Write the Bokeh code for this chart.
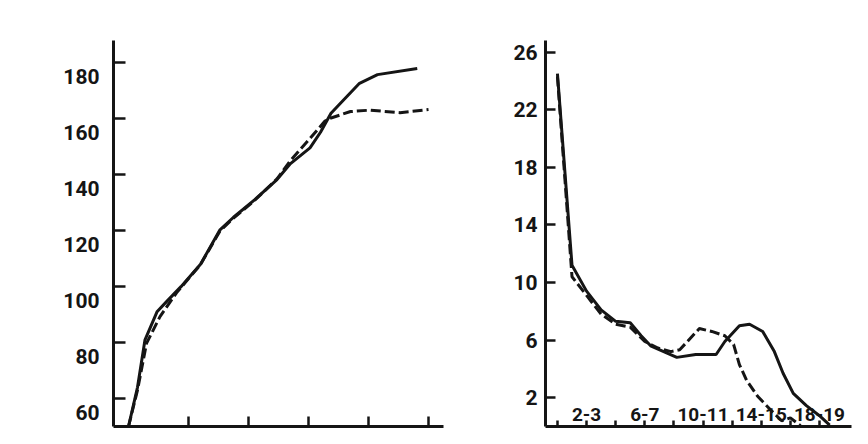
from bokeh.plotting import figure
from bokeh.models import Range1d, LinearAxis, FixedTicker, ColumnDataSource
from bokeh.layouts import row
from bokeh.embed import file_html
from bokeh.resources import INLINE
from bokeh.core.properties import value

# ---------------- data: left panel (body height, cm) ----------------
height_age_boys = [0, 0.6, 1.1, 1.9, 2.6, 3.5, 4.8, 6.1, 7.0, 8.4, 9.9, 10.8,
                   12.1, 12.8, 13.5, 14.4, 15.4, 16.6, 19.25]
height_boys = [50, 64, 81, 91, 95, 100, 108, 120.3, 124.8, 131, 138.3, 144,
               149.6, 155.2, 162, 167.1, 172.7, 175.8, 178]
height_age_girls = [0, 0.6, 1.2, 2.1, 3.2, 4.8, 6.1, 7.0, 8.4, 9.9, 10.8,
                    12.1, 13.1, 13.5, 14.8, 16.1, 18.1, 20.0]
height_girls = [50, 63, 79.7, 89.3, 97.8, 107.9, 119.9, 124.5, 130.8, 138.5,
                145.1, 153, 159.2, 160.3, 162.6, 163.1, 162.2, 163.3]
left_y_ticks = [60, 80, 100, 120, 140, 160, 180]
left_x_ticks = [4, 8, 12, 16, 20]

# ---------------- data: right panel (yearly gain, cm) ----------------
rate_age_boys = [0, 1, 2, 3, 4, 5, 5.75, 6.4, 7.3, 8.2, 9.5, 10.9, 11.5,
                 12.5, 13.2, 14.1, 14.9, 15.5, 16.2, 17.1, 18.0, 18.7]
rate_boys = [24.5, 11.2, 9.4, 8.1, 7.3, 7.2, 6.3, 5.6, 5.2, 4.8, 5.0, 5.0,
             5.9, 7.0, 7.1, 6.6, 5.2, 3.7, 2.3, 1.45, 0.75, 0.1]
rate_age_girls = [0, 1, 2, 3, 4, 5, 6, 6.9, 7.8, 8.4, 9.75, 10.6, 11.5,
                  12.1, 12.5, 13.0, 13.75, 14.6, 15.4, 16.0, 16.7]
rate_girls = [24.3, 10.4, 9.1, 7.8, 7.1, 6.9, 5.9, 5.45, 5.2, 5.33, 6.8, 6.6,
              6.3, 5.7, 4.3, 3.2, 2.1, 1.2, 0.4, 0.6, 0.05]
right_y_ticks = [2, 6, 10, 14, 18, 22, 26]
right_x_ticks = [0, 2, 4, 6, 8, 10, 12, 14, 16, 18]
right_x_label_pos = [2, 6, 10, 14, 18]
right_x_labels = ["2-3", "6-7", "10-11", "14-15", "18-19"]

FONT = "Roboto"
FSIZE = "21px"
INK = "#151515"


def style(p):
    p.outline_line_color = None
    p.xgrid.visible = False
    p.ygrid.visible = False
    p.background_fill_color = "white"
    p.border_fill_color = "white"


def axis_style(ax, tick_in):
    ax.axis_line_width = 3
    ax.axis_line_color = INK
    ax.major_tick_line_width = 2.5
    ax.major_tick_line_color = INK
    ax.major_tick_in = tick_in
    ax.major_tick_out = 0
    ax.minor_tick_line_color = None


def no_labels(ax, ticks):
    ax.major_label_overrides = {t: "" for t in ticks}
    ax.major_label_text_font_size = "1px"
    ax.major_label_standoff = 0


# ---------------- left panel ----------------
p1 = figure(width=445, height=428, output_backend="svg", toolbar_location=None,
            x_range=Range1d(-1.0, 21.0), y_range=Range1d(50, 188),
            min_border_left=113, min_border_right=2, min_border_top=33,
            min_border_bottom=2)
style(p1)
ya = p1.yaxis[0]
ya.ticker = FixedTicker(ticks=left_y_ticks)
axis_style(ya, 12)
no_labels(ya, left_y_ticks)
xa = p1.xaxis[0]
xa.ticker = FixedTicker(ticks=left_x_ticks)
axis_style(xa, 10)
no_labels(xa, left_x_ticks)

# tick labels printed a little below their ticks, as in the source
p1.extra_y_ranges = {"lab": Range1d(50 + 4.9, 188 + 4.9)}
lab = LinearAxis(y_range_name="lab", ticker=FixedTicker(ticks=left_y_ticks))
lab.axis_line_color = None
lab.major_tick_line_color = None
lab.minor_tick_line_color = None
lab.major_tick_in = 0
lab.major_tick_out = 0
lab.major_label_standoff = 14
lab.major_label_text_font = FONT
lab.major_label_text_font_size = FSIZE
lab.major_label_text_font_style = "bold"
lab.major_label_text_color = INK
p1.add_layout(lab, "left")

p1.line(height_age_boys, height_boys, line_width=3, line_color=INK)
p1.line(height_age_girls, height_girls, line_width=3, line_color=INK,
        line_dash="10 4")

# ---------------- right panel ----------------
p2 = figure(width=407, height=428, output_backend="svg", toolbar_location=None,
            x_range=Range1d(-0.82, 20.2), y_range=Range1d(0, 26.8),
            min_border_left=100, min_border_right=1, min_border_top=40,
            min_border_bottom=2)
style(p2)
ya2 = p2.yaxis[0]
ya2.ticker = FixedTicker(ticks=right_y_ticks)
axis_style(ya2, 10)
ya2.major_label_standoff = 8
ya2.major_label_text_font = FONT
ya2.major_label_text_font_size = FSIZE
ya2.major_label_text_font_style = "bold"
ya2.major_label_text_color = INK
xa2 = p2.xaxis[0]
xa2.ticker = FixedTicker(ticks=right_x_ticks)
axis_style(xa2, 6)
no_labels(xa2, right_x_ticks)

p2.line(rate_age_boys, rate_boys, line_width=3, line_color=INK)
p2.line(rate_age_girls, rate_girls, line_width=3, line_color=INK,
        line_dash="10 4")

src = ColumnDataSource(dict(x=right_x_label_pos, y=[0] * len(right_x_label_pos),
                            t=right_x_labels))
p2.text(x="x", y="y", text="t", source=src, text_align="center",
        text_baseline="alphabetic", y_offset=-12,
        text_font=value(FONT), text_font_size="19px",
        text_font_style="bold", text_color=INK)

layout = row(p1, p2)
open("out.html", "w").write(file_html(layout, INLINE))
